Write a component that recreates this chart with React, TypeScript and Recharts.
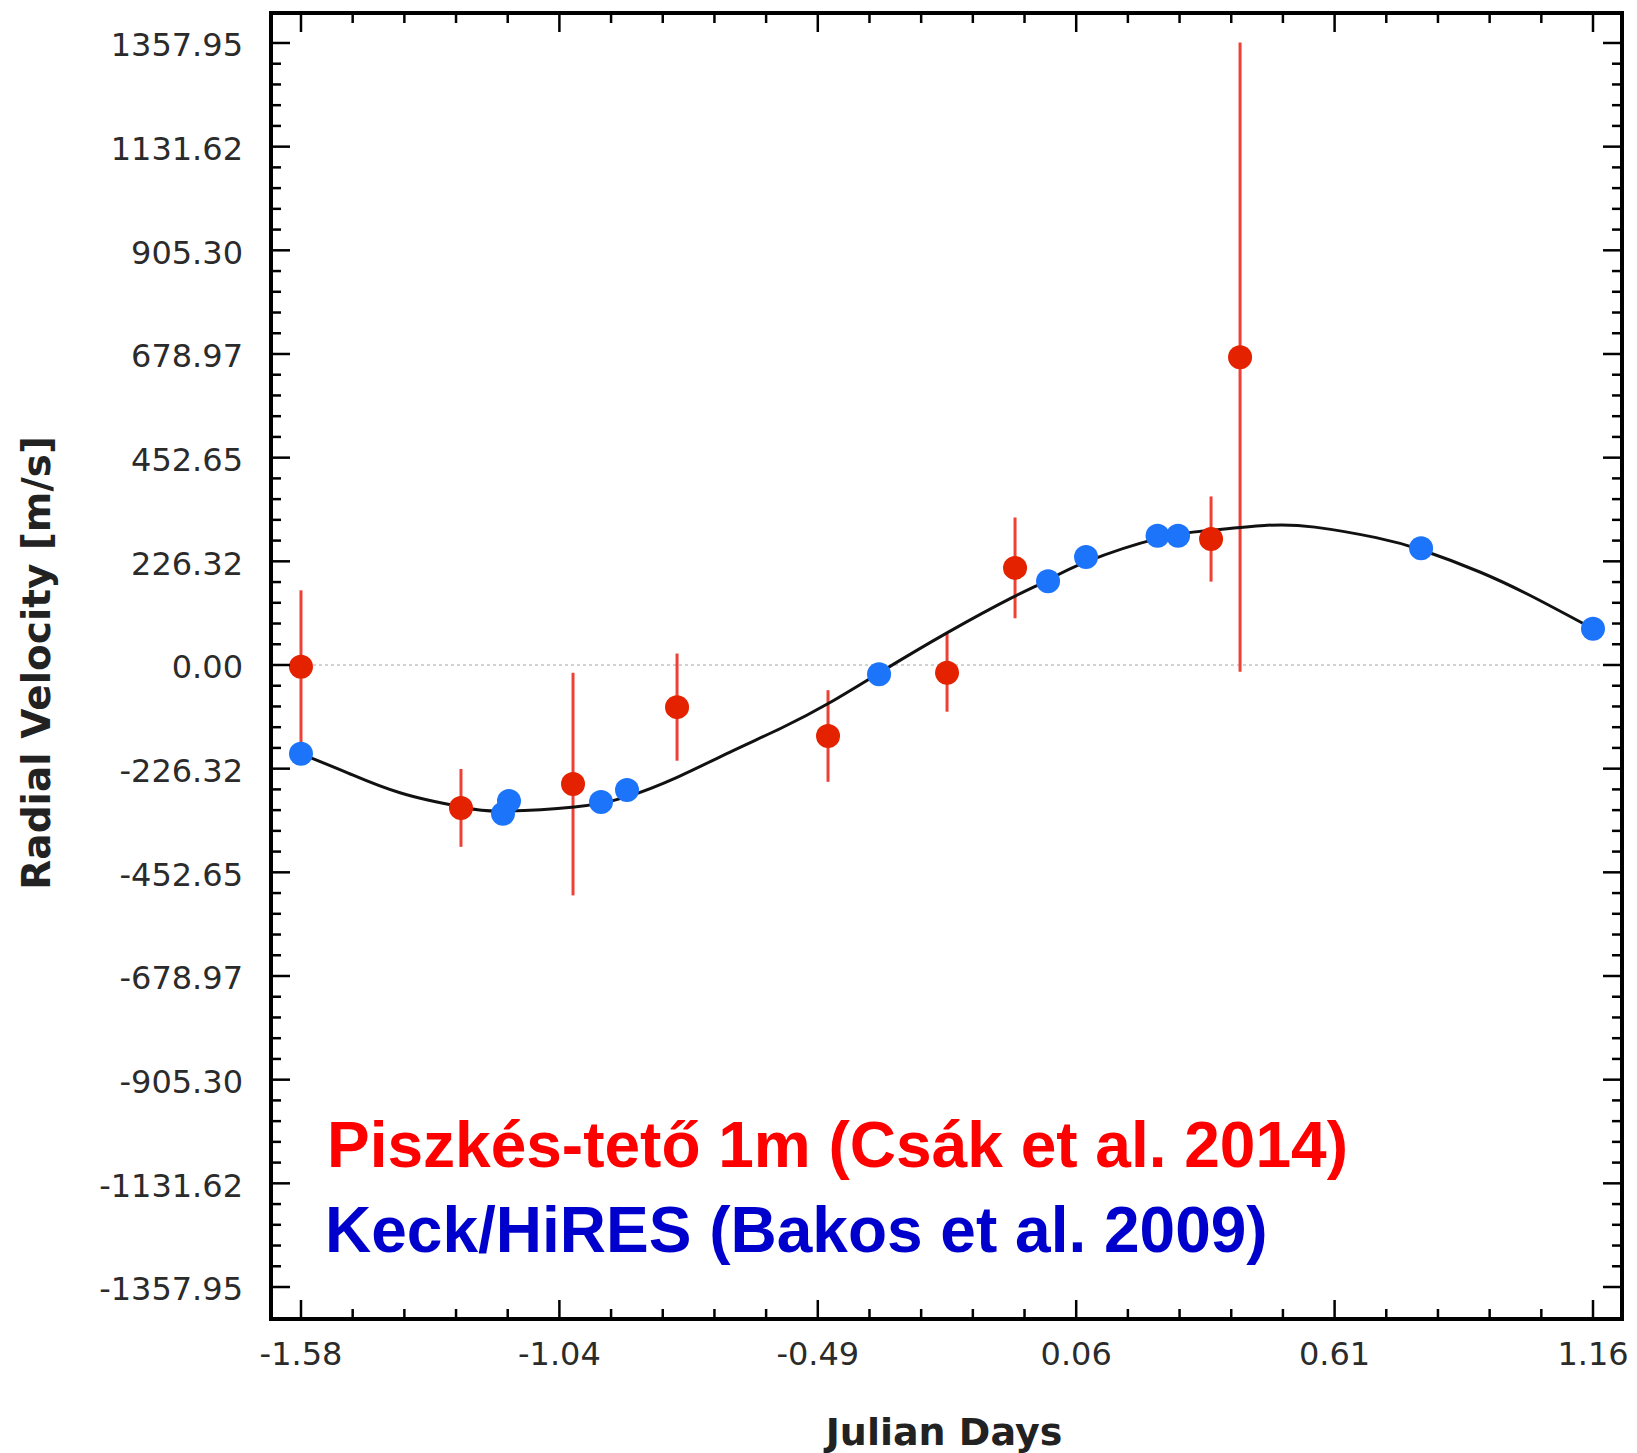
// Radial velocity curve: Piszkés-tető 1m and Keck/HiRES points over the fitted orbit.
import { ComposedChart, Scatter, Line, XAxis, YAxis, ErrorBar, ReferenceLine } from "recharts";

// ── Data ────────────────────────────────────────────────────────────────────

const redX = [-1.58, -1.2407, -1.0031, -0.7825, -0.4623, -0.2099, -0.0657, 0.35, 0.4115];
const redY = [-4, -312, -260, -92, -155, -17, 212, 275, 672];
const redErr = [167, 85, 243, 117, 100, 85, 110, 93, 687];

const blueX = [-1.58, -1.1516, -1.1389, -0.9437, -0.8886, -0.3541, 0.0043, 0.0849, 0.2365, 0.28, 0.7954, 1.16];
const blueY = [-194, -325, -297, -299, -273, -20, 183, 236, 282, 282, 255, 79];

const curveX = [-1.58, -1.48, -1.37, -1.24, -1.15, -1.0, -0.89, -0.78, -0.67, -0.56, -0.46, -0.35, -0.21, -0.07, 0.0, 0.085, 0.24, 0.35, 0.47, 0.57, 0.7, 0.8, 0.92, 1.03, 1.16];
const curveY = [-194, -236, -279, -310, -319, -310, -288, -244, -190, -137, -83, -15, 70, 148, 183, 225, 277, 294, 305, 301, 278, 250, 203, 150, 79];

const xMajor = [-1.58, -1.032, -0.484, 0.064, 0.612, 1.16];
const xMajorLabels = ["-1.58", "-1.04", "-0.49", "0.06", "0.61", "1.16"];
const yMajor = [-1357.95, -1131.62, -905.3, -678.97, -452.65, -226.32, 0, 226.32, 452.65, 678.97, 905.3, 1131.62, 1357.95];
const yMajorLabels = ["-1357.95", "-1131.62", "-905.30", "-678.97", "-452.65", "-226.32", "0.00", "226.32", "452.65", "678.97", "905.30", "1131.62", "1357.95"];

const X_DOMAIN: [number, number] = [-1.6436, 1.2215];
const Y_DOMAIN: [number, number] = [-1427.8, 1423.4];

// ── Layout ──────────────────────────────────────────────────────────────────

const W = 1637;
const H = 1453;
const PLOT = { left: 271, right: 1622, top: 13, bottom: 1319 };
const MAJOR_LEN = 19;
const MINOR_LEN = 10;
const TICK_FONT = { fontFamily: "DejaVu Sans", fontSize: 32, fill: "#2b2b2b" };
const AXIS_LINE = { stroke: "#000", strokeWidth: 4, strokeLinecap: "square" as const };

const RED_DOT = "#e42200";
const RED_BAR = "#ef4035";
const BLUE_DOT = "#1c74fa";

// 4 minor ticks between each pair of majors
function withMinors(major: number[]) {
  const out: number[] = [...major];
  for (let i = 0; i < major.length - 1; i++) {
    const step = (major[i + 1] - major[i]) / 5;
    for (let k = 1; k < 5; k++) out.push(major[i] + k * step);
  }
  return out;
}
const xAllTicks = withMinors(xMajor);
const yAllTicks = withMinors(yMajor);

const majorIndex = (list: number[], v: number) => list.findIndex(m => Math.abs(m - v) < 1e-6);

const redData = redX.map((x, i) => ({ x, y: redY[i], err: redErr[i] }));
const blueData = blueX.map((x, i) => ({ x, y: blueY[i] }));
const curveData = curveX.map((x, i) => ({ x, y: curveY[i] }));

// ── Tick renderers (inward ticks on all four sides) ─────────────────────────

function XTick(props: any, side: "top" | "bottom") {
  const { x, payload } = props;
  const idx = majorIndex(xMajor, payload.value);
  const len = idx >= 0 ? MAJOR_LEN : MINOR_LEN;
  const y0 = side === "bottom" ? PLOT.bottom : PLOT.top;
  const y1 = side === "bottom" ? y0 - len : y0 + len;
  return (
    <g>
      <line x1={x} x2={x} y1={y0} y2={y1} stroke="#000" strokeWidth={2.5} />
      {side === "bottom" && idx >= 0 && (
        <text x={x} y={1365} textAnchor="middle" {...TICK_FONT}>{xMajorLabels[idx]}</text>
      )}
    </g>
  );
}

function YTick(props: any, side: "left" | "right") {
  const { y, payload } = props;
  const idx = majorIndex(yMajor, payload.value);
  const len = idx >= 0 ? MAJOR_LEN : MINOR_LEN;
  const x0 = side === "left" ? PLOT.left : PLOT.right;
  const x1 = side === "left" ? x0 + len : x0 - len;
  return (
    <g>
      <line x1={x0} x2={x1} y1={y} y2={y} stroke="#000" strokeWidth={2.5} />
      {side === "left" && idx >= 0 && (
        <text x={243} y={y} dy="0.42em" textAnchor="end" {...TICK_FONT}>{yMajorLabels[idx]}</text>
      )}
    </g>
  );
}

const Dot = (color: string) => (p: any) => <circle cx={p.cx} cy={p.cy} r={12} fill={color} />;
const NoDot = () => <g />;

export default function App() {
  return (
    <div style={{ position: "absolute", left: 0, top: 0, width: W, height: H, background: "#fff" }}>
      <ComposedChart
        width={W}
        height={H}
        margin={{ top: PLOT.top - 1, right: W - PLOT.right - 1, bottom: 0, left: 0 }}
      >
        <XAxis
          type="number" dataKey="x" domain={X_DOMAIN} allowDataOverflow
          ticks={xAllTicks} interval={0} tickLine={false} tickSize={0} tickMargin={0}
          axisLine={AXIS_LINE} height={H - PLOT.bottom}
          tick={(p: any) => XTick(p, "bottom")}
        />
        <XAxis
          xAxisId="top" orientation="top" type="number" dataKey="x" domain={X_DOMAIN} allowDataOverflow
          ticks={xAllTicks} interval={0} tickLine={false} tickSize={0} tickMargin={0}
          axisLine={AXIS_LINE} height={1}
          tick={(p: any) => XTick(p, "top")}
        />
        <YAxis
          type="number" dataKey="y" domain={Y_DOMAIN} allowDataOverflow
          ticks={yAllTicks} interval={0} tickLine={false} tickSize={0} tickMargin={0}
          axisLine={AXIS_LINE} width={PLOT.left}
          tick={(p: any) => YTick(p, "left")}
        />
        <YAxis
          yAxisId="right" orientation="right" type="number" dataKey="y" domain={Y_DOMAIN} allowDataOverflow
          ticks={yAllTicks} interval={0} tickLine={false} tickSize={0} tickMargin={0}
          axisLine={AXIS_LINE} width={1}
          tick={(p: any) => YTick(p, "right")}
        />
        <ReferenceLine y={0} stroke="#c4c4c4" strokeWidth={1.5} strokeDasharray="3 3" />
        {/* invisible series so the top/right frame axes get drawn */}
        <Scatter xAxisId="top" yAxisId="right" data={blueData} shape={NoDot} isAnimationActive={false} />
        <Scatter data={redData} shape={Dot(RED_DOT)} isAnimationActive={false}>
          <ErrorBar dataKey="err" direction="y" width={0} stroke={RED_BAR} strokeWidth={3} isAnimationActive={false} />
        </Scatter>
        <Scatter data={blueData} shape={Dot(BLUE_DOT)} isAnimationActive={false} />
        <Line
          data={curveData} dataKey="y" type="natural" stroke="#111" strokeWidth={3}
          dot={false} activeDot={false} isAnimationActive={false}
        />
      </ComposedChart>

      <svg width={W} height={H} style={{ position: "absolute", left: 0, top: 0, pointerEvents: "none" }}>
        <text
          x={50} y={663} transform="rotate(-90 50 663)" textAnchor="middle"
          fontFamily="DejaVu Sans" fontWeight="bold" fontSize={39} fill="#222"
        >
          Radial Velocity [m/s]
        </text>
        <text x={944} y={1445} textAnchor="middle" fontFamily="DejaVu Sans" fontWeight="bold" fontSize={38} fill="#222">
          Julian Days
        </text>
        <text x={327} y={1167} fontFamily="Liberation Sans" fontWeight="bold" fontSize={64} fill="#ff0000">
          Piszkés-tető 1m (Csák et al. 2014)
        </text>
        <text x={325} y={1252} fontFamily="Liberation Sans" fontWeight="bold" fontSize={64} fill="#0000cd">
          Keck/HiRES (Bakos et al. 2009)
        </text>
      </svg>
    </div>
  );
}
